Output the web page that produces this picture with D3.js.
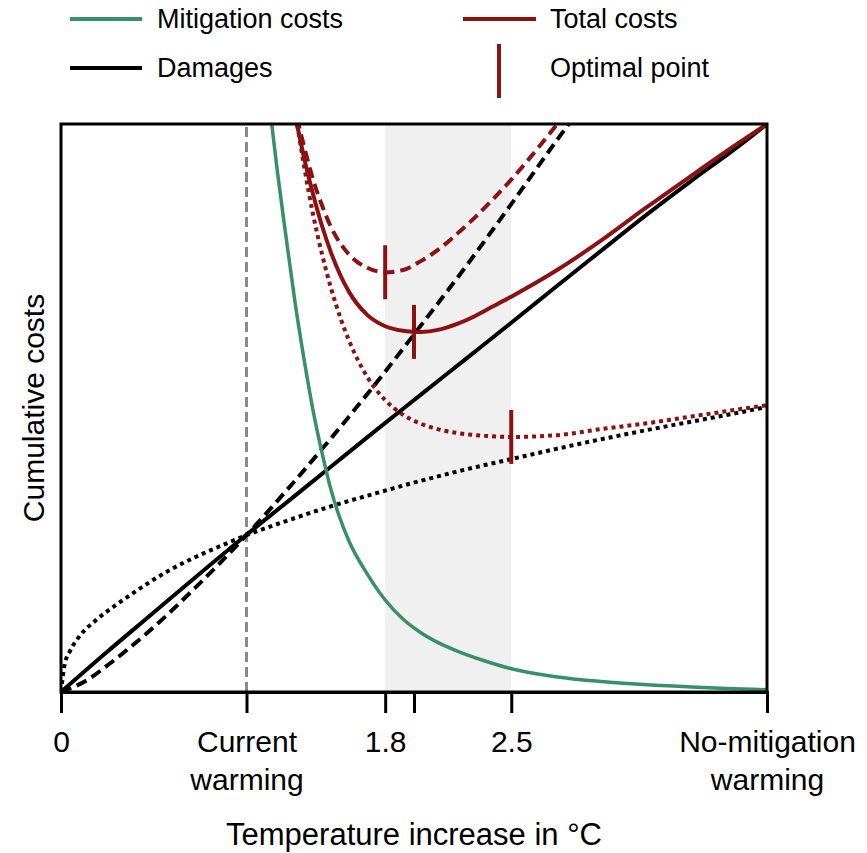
<!DOCTYPE html>
<html>
<head>
<meta charset="utf-8">
<script src="https://cdn.jsdelivr.net/npm/d3@7"></script>
<style>
  html, body { margin: 0; padding: 0; background: #ffffff; }
  svg { display: block; font-family: "Liberation Sans", Arial, Helvetica, sans-serif; }
</style>
</head>
<body>
<svg id="chart" width="867" height="853"></svg>
<script>
// ---------------- DATA (costs in relative units 0-100) ----------------
const xMax = 3.92;                 // "No-mitigation warming"
const currentWarming = 1.03;       // "Current warming"
const optimalRange = [1.8, 2.5];   // shaded band

// Damages: solid (central), dashed (convex), dotted (concave)
const damageSolidT = [0, 0.25, 0.5, 0.75, 1.0, 1.25, 1.5, 1.75, 2.0, 2.25, 2.5, 2.75, 3.0, 3.25, 3.5, 3.75, 3.92];
const damageSolidC = [0, 6.9, 13.6, 20.3, 26.9, 33.3, 39.7, 46.1, 52.4, 58.7, 65.0, 71.4, 77.7, 84.0, 90.0, 95.8, 100];

const damageDashT = [0, 0.15, 0.25, 0.5, 0.75, 1.0, 1.25, 1.5, 1.75, 2.0, 2.25, 2.5, 2.75, 2.9];
const damageDashC = [0, 2.2, 4.5, 11.0, 18.5, 26.6, 35.4, 44.7, 54.4, 64.6, 75.0, 85.9, 97.0, 103.5];

const damageDotT = [0, 0.02, 0.05, 0.1, 0.2, 0.3, 0.4, 0.5, 0.6, 0.75, 0.9, 1.03, 1.25, 1.5, 1.75, 2.0, 2.25, 2.5, 2.75, 3.0, 3.25, 3.5, 3.75, 3.92];
const damageDotC = [0, 4.8, 7.2, 9.7, 12.8, 15.2, 17.4, 19.5, 21.4, 23.8, 25.9, 27.6, 30.1, 32.7, 35.0, 37.2, 39.2, 41.0, 42.8, 44.5, 46.1, 47.6, 49.1, 50.2];

// Mitigation costs
const mitigT = [1.15, 1.17, 1.2, 1.25, 1.3, 1.35, 1.4, 1.45, 1.5, 1.55, 1.6, 1.7, 1.8, 1.9, 2.0, 2.1, 2.2, 2.35, 2.5, 2.7, 2.9, 3.1, 3.3, 3.5, 3.7, 3.92];
const mitigC = [105, 100, 92, 80, 68.5, 58.5, 49.5, 42, 35.5, 30.5, 26.5, 20.8, 16.2, 12.8, 10.4, 8.6, 7.2, 5.5, 4.1, 2.9, 2.1, 1.6, 1.2, 0.9, 0.6, 0.4];

// Total costs (damages + mitigation) for each damage assumption
const totalSolidT = [1.29, 1.31, 1.35, 1.4, 1.45, 1.5, 1.6, 1.7, 1.8, 1.9, 1.96, 2.0, 2.1, 2.2, 2.3, 2.4, 2.5, 2.75, 3.0, 3.25, 3.5, 3.75, 3.92];
const totalSolidC = [103, 100, 94, 87.6, 82, 77.3, 70.4, 66.4, 64.4, 63.6, 63.4, 63.4, 63.8, 64.8, 66.2, 67.9, 69.6, 74.2, 79.5, 85.3, 90.9, 96.4, 100];

const totalDashT = [1.29, 1.311, 1.35, 1.4, 1.45, 1.5, 1.6, 1.7, 1.8, 1.9, 2.0, 2.1, 2.2, 2.3, 2.4, 2.5, 2.6, 2.7, 2.8];
const totalDashC = [104, 101, 96, 90.2, 85.6, 81.8, 77.0, 74.7, 73.9, 74.3, 75.9, 78.0, 80.7, 83.6, 86.8, 90.2, 93.9, 97.8, 101.8];

const totalDotT = [1.29, 1.311, 1.35, 1.4, 1.45, 1.5, 1.55, 1.6, 1.7, 1.8, 1.9, 2.0, 2.1, 2.2, 2.35, 2.5, 2.75, 3.0, 3.25, 3.5, 3.75, 3.92];
const totalDotC = [104, 100, 92.5, 84.0, 77.0, 71.0, 66.0, 61.8, 55.5, 51.4, 48.8, 47.2, 46.2, 45.6, 45.1, 44.9, 45.2, 46.3, 47.3, 48.5, 49.7, 50.5];

// Optimal points (minimum of each total-cost curve): dashed, solid, dotted
const optimalT = [1.8, 1.96, 2.5];
const optimalC = [73.9, 63.4, 44.9];

// X-axis ticks
const tickValues = [0, currentWarming, 1.8, 1.96, 2.5, xMax];
const tickLabels = [["0"], ["Current", "warming"], ["1.8"], [], ["2.5"], ["No-mitigation", "warming"]];

// Legend
const legendLabels = ["Mitigation costs", "Total costs", "Damages", "Optimal point"];

// ---------------- STYLE ----------------
const RED = "#8c1212", GREEN = "#3a9066", BLACK = "#000000", GREY = "#8a8a8a", BAND = "#f0f0f0";

// ---------------- CHART ----------------
const svg = d3.select("#chart");
const pLeft = 61, pRight = 767, pTop = 124, pBottom = 692;

const x = d3.scaleLinear().domain([0, xMax]).range([pLeft, pRight]);
const y = d3.scaleLinear().domain([0, 100]).range([pBottom, pTop]);

svg.append("defs").append("clipPath").attr("id", "plotclip")
  .append("rect").attr("x", pLeft).attr("y", pTop).attr("width", pRight - pLeft).attr("height", pBottom - pTop);

// shaded band
svg.append("rect")
  .attr("x", x(optimalRange[0])).attr("y", pTop)
  .attr("width", x(optimalRange[1]) - x(optimalRange[0]))
  .attr("height", pBottom - pTop)
  .attr("fill", BAND);

// current warming guide
svg.append("line")
  .attr("x1", x(currentWarming)).attr("x2", x(currentWarming))
  .attr("y1", y(0)).attr("y2", y(100))
  .attr("stroke", GREY).attr("stroke-width", 3).attr("stroke-dasharray", "10,5");

const plot = svg.append("g").attr("clip-path", "url(#plotclip)");
const line = d3.line().x(d => x(d[0])).y(d => y(d[1])).curve(d3.curveMonotoneX);
const zip = (a, b) => a.map((v, i) => [v, b[i]]);

function drawCurve(T, C, color, width, dash) {
  plot.append("path")
    .datum(zip(T, C))
    .attr("d", line)
    .attr("fill", "none")
    .attr("stroke", color)
    .attr("stroke-width", width)
    .attr("stroke-dasharray", dash || null)
    .attr("stroke-linecap", "butt")
    .attr("stroke-linejoin", "round");
}

drawCurve(damageDotT, damageDotC, BLACK, 4, "4,4");
drawCurve(damageDashT, damageDashC, BLACK, 4, "11,6");
drawCurve(damageSolidT, damageSolidC, BLACK, 4);
drawCurve(mitigT, mitigC, GREEN, 3.5);
drawCurve(totalDotT, totalDotC, RED, 4, "4,4");
drawCurve(totalDashT, totalDashC, RED, 4, "11,6");
drawCurve(totalSolidT, totalSolidC, RED, 4);

// optimal markers
svg.append("g").selectAll("line")
  .data(zip(optimalT, optimalC))
  .join("line")
  .attr("x1", d => x(d[0])).attr("x2", d => x(d[0]))
  .attr("y1", d => y(d[1]) - 27).attr("y2", d => y(d[1]) + 27)
  .attr("stroke", RED).attr("stroke-width", 4);

// frame
svg.append("rect")
  .attr("x", pLeft).attr("y", pTop).attr("width", pRight - pLeft).attr("height", pBottom - pTop)
  .attr("fill", "none").attr("stroke", BLACK).attr("stroke-width", 3);

// x axis
const xAxis = d3.axisBottom(x).tickValues(tickValues).tickSize(21).tickFormat("");
const gx = svg.append("g").attr("transform", `translate(0,${pBottom})`).call(xAxis);
gx.select(".domain").attr("stroke", BLACK).attr("stroke-width", 3);
gx.selectAll(".tick line").attr("stroke", BLACK).attr("stroke-width", 3);
gx.selectAll(".tick").each(function(d, i) {
  const t = d3.select(this).append("text")
    .attr("text-anchor", "middle")
    .attr("fill", BLACK)
    .style("font-size", "30px");
  tickLabels[i].forEach((s, k) => {
    t.append("tspan").attr("x", 0).attr("y", 60 + k * 38).text(s);
  });
});

// axis titles
svg.append("text")
  .attr("x", (pLeft + pRight) / 2).attr("y", 845)
  .attr("text-anchor", "middle").style("font-size", "31px").attr("fill", BLACK)
  .text("Temperature increase in °C");

svg.append("text")
  .attr("transform", `translate(44,${(pTop + pBottom) / 2}) rotate(-90)`)
  .attr("text-anchor", "middle").style("font-size", "30px").attr("fill", BLACK)
  .text("Cumulative costs");

// legend
const lg = svg.append("g");
lg.append("line").attr("x1", 70).attr("x2", 142).attr("y1", 19).attr("y2", 19).attr("stroke", GREEN).attr("stroke-width", 4);
lg.append("text").attr("x", 157).attr("y", 28).style("font-size", "27px").text(legendLabels[0]);
lg.append("line").attr("x1", 463).attr("x2", 536).attr("y1", 19).attr("y2", 19).attr("stroke", RED).attr("stroke-width", 4);
lg.append("text").attr("x", 550).attr("y", 28).style("font-size", "27px").text(legendLabels[1]);
lg.append("line").attr("x1", 70).attr("x2", 142).attr("y1", 68).attr("y2", 68).attr("stroke", BLACK).attr("stroke-width", 4);
lg.append("text").attr("x", 157).attr("y", 77).style("font-size", "27px").text(legendLabels[2]);
lg.append("line").attr("x1", 499).attr("x2", 499).attr("y1", 44).attr("y2", 98).attr("stroke", RED).attr("stroke-width", 4);
lg.append("text").attr("x", 550).attr("y", 77).style("font-size", "27px").text(legendLabels[3]);
</script>
</body>
</html>
